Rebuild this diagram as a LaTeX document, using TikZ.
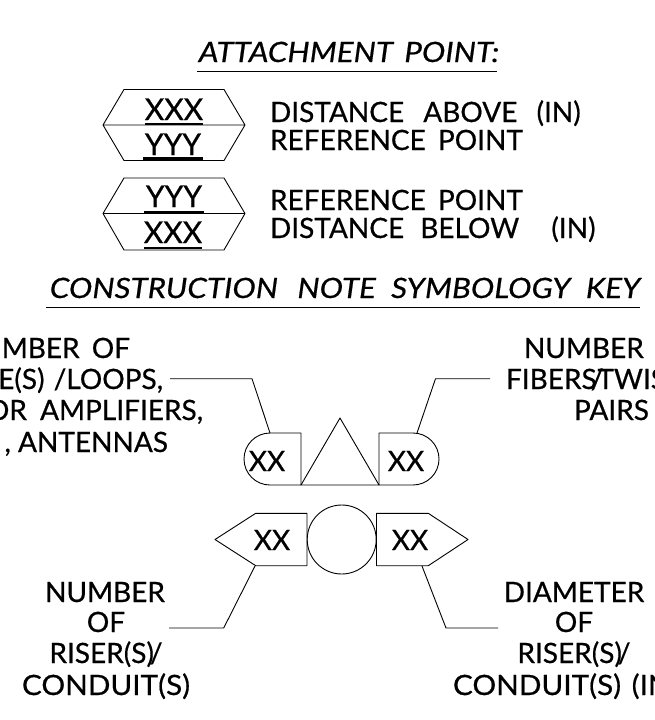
\documentclass[tikz,border=0pt]{standalone}
\usepackage{fontspec}
\setmainfont{Lato}[FakeBold=0.6,ItalicFeatures={FakeStretch=1.12,FakeBold=0.6}]
\tikzset{
  lbl/.style={inner sep=0pt,outer sep=0pt,font=\fontsize{28}{30}\selectfont,text=black},
  ttl/.style={lbl,font=\fontsize{28}{30}\selectfont\itshape},
  big/.style={lbl,font=\fontsize{30}{32}\selectfont},
  wide/.style={lbl,font=\fontsize{28}{30}\selectfont\addfontfeature{FakeStretch=1.06}},
  shp/.style={draw=black,line width=0.9pt,line join=round},
  rule/.style={draw=black,line width=1pt},
  bar/.style={draw=black,line width=2.6pt},
  leader/.style={draw=black,line width=0.9pt,line join=miter}
}
\begin{document}
\begin{tikzpicture}[x=1pt,y=-1pt]
\useasboundingbox (0,0) rectangle (655,720);
\clip (0,0) rectangle (655,720);
% titles
\node[ttl,anchor=base] (t1) at (349,62) {ATTACHMENT\hspace{4pt} POINT:};
\draw[rule] (197,71.5) -- (497,71.5);
\node[ttl,anchor=base] (t2) at (345,298) {CONSTRUCTION\hspace{12pt} NOTE\hspace{8pt} SYMBOLOGY\hspace{8pt} KEY};
\draw[rule] (46,307) -- (640,307);
% hexagons
\draw[shp] (103,125) -- (124,89.5) -- (224,89.5) -- (245,125) -- (224,160.5) -- (124,160.5) -- cycle (103,125) -- (245,125);
\draw[shp] (103,213.5) -- (124,178) -- (224,178) -- (245,213.5) -- (224,250) -- (124,250) -- cycle (103,213.5) -- (245,213.5);
\node[big,anchor=base] (x1) at (174,120) {XXX};
\draw[bar] (145,124) -- (203,124);
\node[big,anchor=base] (y1) at (173,155) {YYY};
\draw[bar] (143,158.5) -- (203,158.5);
\node[big,anchor=base] (y2) at (174,207) {YYY};
\draw[bar] (144,212.5) -- (204,212.5);
\node[big,anchor=base] (x2) at (173,243) {XXX};
\draw[bar] (144,248) -- (202,248);
\node[lbl,anchor=base west] (d1) at (270,122) {DISTANCE\hspace{12pt} ABOVE\hspace{12pt} (IN)};
\node[lbl,anchor=base west] (r1) at (270,150) {REFERENCE\hspace{5pt} POINT};
\node[lbl,anchor=base west] (r2) at (270,210) {REFERENCE\hspace{5pt} POINT};
\node[lbl,anchor=base west] (d2) at (270,238) {DISTANCE\hspace{9pt} BELOW\hspace{25pt} (IN)};
% upper left text
\node[lbl,anchor=base east] (a1) at (130,358) {NUMBER\hspace{5pt} OF};
\node[lbl,anchor=base east] (a2) at (163,389) {E(S)\hspace{2pt} /LOOPS,};
\node[lbl,anchor=base east] (a3) at (203,420) {OR\hspace{6pt} AMPLIFIERS,};
\node[lbl,anchor=base east] (a4) at (168,452) {, ANTENNAS};
% upper right text
\node[lbl,anchor=base west] (b1) at (524,358) {NUMBER};
\node[lbl,anchor=base west] (b2) at (506,389) {FIBERS\kern-6pt/\kern-6pt TWIS};
\node[lbl,anchor=base west] (b3) at (574,420) {PAIRS};
% symbols
\draw[shp] (301,485) -- (270,485) arc (90:270:26) -- (301,433) -- cycle;
\draw[shp] (301,485) -- (340,418) -- (379,485) -- cycle;
\draw[shp] (379,485) -- (413,485) arc (90:-90:26) -- (379,433) -- cycle;
\node[lbl,anchor=base] (xa) at (267,471) {XX};
\node[lbl,anchor=base] (xb) at (406,471) {XX};
\draw[shp] (307,513.3) -- (255.7,513.3) -- (215,539.5) -- (255.7,565.7) -- (307,565.7) -- cycle;
\draw[shp] (341.7,539.5) ellipse [x radius=34.5,y radius=34.5];
\draw[shp] (376.5,513.3) -- (428.3,513.3) -- (468,539.5) -- (428.3,565.7) -- (376.5,565.7) -- cycle;
\node[lbl,anchor=base] (xc) at (272,550) {XX};
\node[lbl,anchor=base] (xd) at (410,550) {XX};
% leaders
\coordinate (la) at (170,378.7); \coordinate (lb) at (252,378.7); \coordinate (lc) at (270,433);
\draw[leader] (la) -- (lb) -- (lc);
\coordinate (ra) at (490,378.7); \coordinate (rb) at (435.5,378.7); \coordinate (rc) at (417,433);
\draw[leader] (ra) -- (rb) -- (rc);
\coordinate (ma) at (169,628); \coordinate (mb) at (223.7,628); \coordinate (mc) at (255,566);
\draw[leader] (ma) -- (mb) -- (mc);
\coordinate (na) at (498,628); \coordinate (nb) at (446,628); \coordinate (nc) at (422,566);
\draw[leader] (na) -- (nb) -- (nc);
% lower text
\node[lbl,anchor=base] (c1) at (105,602) {NUMBER};
\node[lbl,anchor=base] (c2) at (106,632) {OF};
\node[lbl,anchor=base] (c3) at (106,663) {RISER(S)\kern-4pt/};
\node[wide,anchor=base] (c4) at (106,695) {CONDUIT(S)};
\node[lbl,anchor=base] (e1) at (574,602) {DIAMETER};
\node[lbl,anchor=base] (e2) at (574,632) {OF};
\node[lbl,anchor=base] (e3) at (574,663) {RISER(S)\kern-4pt/};
\node[wide,anchor=base west] (e4) at (453,695) {CONDUIT(S)\hspace{3pt} (IN)};
\end{tikzpicture}
\end{document}
